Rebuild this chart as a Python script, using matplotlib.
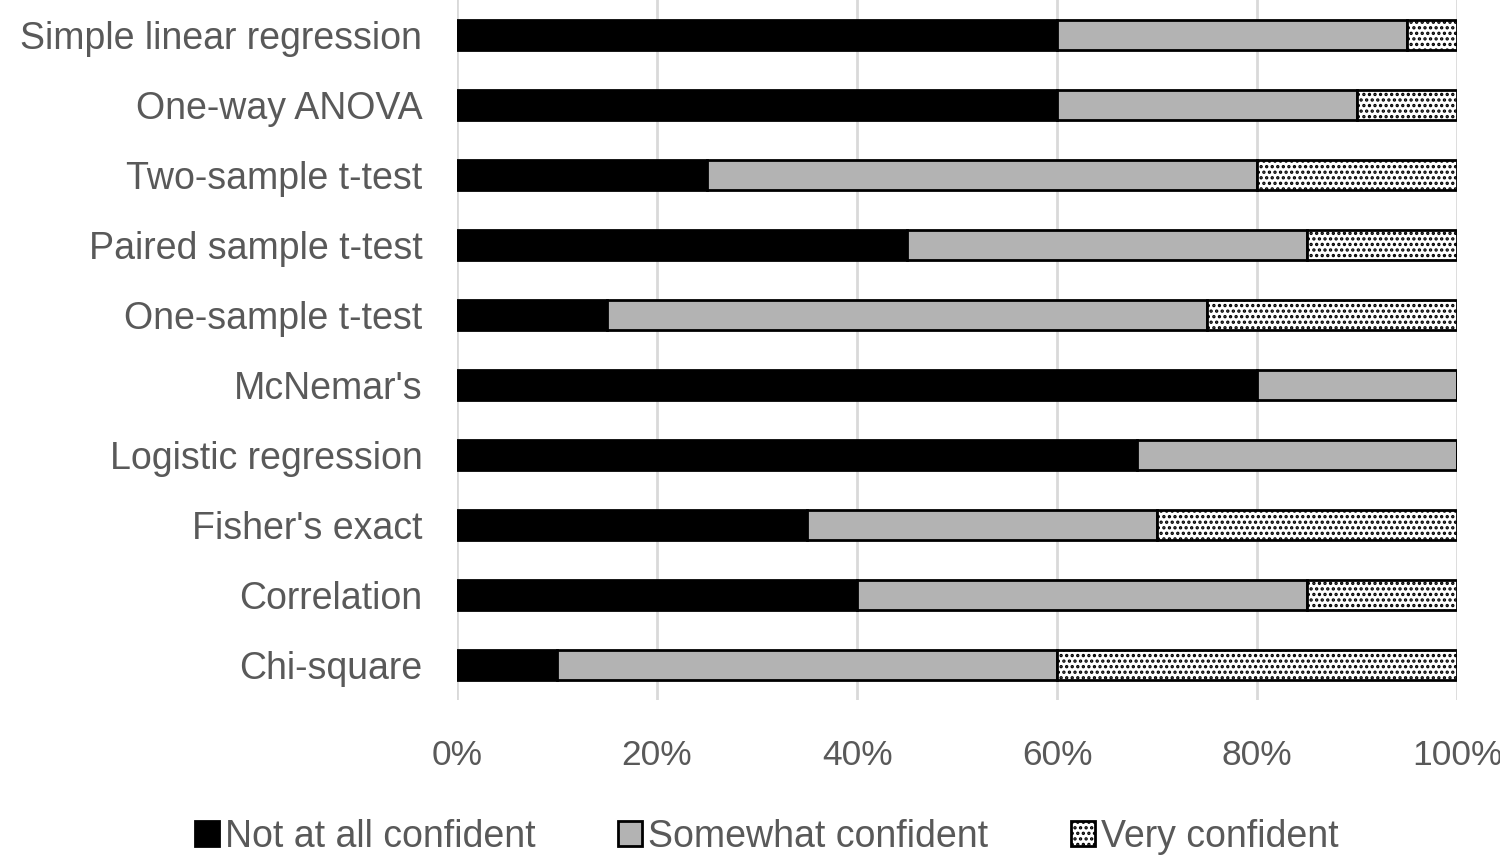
import matplotlib.pyplot as plt
import numpy as np

plt.rcParams['font.family'] = ['Liberation Sans', 'DejaVu Sans']
plt.rcParams['hatch.linewidth'] = 1.6

tests = ["Simple linear regression", "One-way ANOVA", "Two-sample t-test",
         "Paired sample t-test", "One-sample t-test", "McNemar's",
         "Logistic regression", "Fisher's exact", "Correlation", "Chi-square"]
not_conf = [60, 60, 25, 45, 15, 80, 68, 35, 40, 10]
somewhat = [35, 30, 55, 40, 60, 20, 32, 35, 45, 50]
very = [5, 10, 20, 15, 25, 0, 0, 30, 15, 40]

fig = plt.figure(figsize=(15, 8.59), dpi=100)
ax = fig.add_axes([0.3047, 0.185, 0.6667, 0.815])

y = np.arange(len(tests))
h = 0.43
left1 = np.array(not_conf)
left2 = left1 + np.array(somewhat)

ax.barh(y, not_conf, height=h, color='black', edgecolor='black', linewidth=2,
        label='Not at all confident', zorder=3)
ax.barh(y, somewhat, left=left1, height=h, color='#b3b3b3', edgecolor='black',
        linewidth=2, label='Somewhat confident', zorder=3)
ax.barh(y, very, left=left2, height=h, color='white', edgecolor='black',
        linewidth=2, hatch='...', label='Very confident', zorder=3)

ax.set_xlim(0, 100)
ax.set_ylim(len(tests) - 0.5, -0.5)
ax.set_yticks(y)
ax.set_yticklabels(tests)
ax.set_xticks(range(0, 101, 20))
ax.set_xticklabels([f"{v}%" for v in range(0, 101, 20)])
ax.tick_params(axis='both', length=0, labelcolor='#595959')
ax.tick_params(axis='y', pad=25, labelsize=27)
ax.tick_params(axis='x', pad=28, labelsize=25.5)
ax.grid(axis='x', color='#d9d9d9', linewidth=2, zorder=0)
for s in ax.spines.values():
    s.set_visible(False)

leg = fig.legend(loc='center', bbox_to_anchor=(0.511, 0.026), ncol=3, frameon=False,
                 fontsize=27, handlelength=0.65, handleheight=0.65,
                 handletextpad=0.15, columnspacing=2.2)
for t in leg.get_texts():
    t.set_color('#595959')

fig.savefig('out.png', dpi=100)
